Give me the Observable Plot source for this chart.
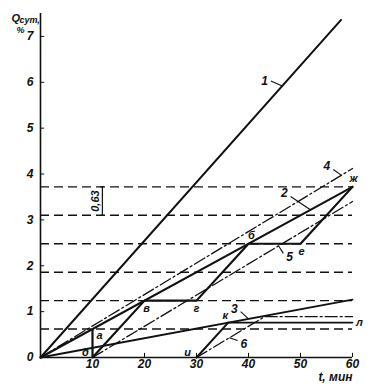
<!DOCTYPE html>
<html>
<head>
<meta charset="utf-8">
<script src="https://cdn.jsdelivr.net/npm/d3@7"></script>
<script src="https://cdn.jsdelivr.net/npm/@observablehq/plot@0.6"></script>
<style>
  html, body { margin: 0; padding: 0; background: #fff; }
  svg text { font-style: italic; }
</style>
</head>
<body>
<div id="chart"></div>
<script>
// ---- data (t in minutes, q in % of daily volume) ----
const xTicks = [10, 20, 30, 40, 50, 60];
const yTicks = [0, 1, 2, 3, 4, 5, 6, 7];
const yMinor = [1, 2, 3, 4, 5, 6, 7];
const levels = [0.62, 1.24, 1.86, 2.48, 3.10, 3.72];

const line1 = [{t: 0, q: 0}, {t: 57.8, q: 7.36}];
const line2 = [{t: 0, q: 0}, {t: 60, q: 3.72}];
const line3 = [{t: 0, q: 0}, {t: 60, q: 1.26}];
const line4 = [{t: 0, q: 0}, {t: 60, q: 4.12}];
const line5 = [{t: 10, q: 0}, {t: 60, q: 3.4}];
const line6 = [{t: 30, q: 0}, {t: 43.1, q: 0.89}, {t: 60, q: 0.89}];
const lineL = [{t: 36.1, q: 0.76}, {t: 60, q: 0.76}];
const lineIK = [{t: 30, q: 0}, {t: 36.1, q: 0.76}];
const stairs = [
  {t: 10, q: 0.62}, {t: 10, q: 0}, {t: 20, q: 1.24}, {t: 30, q: 1.24},
  {t: 40, q: 2.48}, {t: 50, q: 2.48}, {t: 60, q: 3.72}
];

// point letters
const pointNames = ["а", "д", "в", "г", "б", "е", "ж", "к", "и", "л"];
const pointT     = [10,   10,  20,  30,  40,  50,  60,  36.1, 30, 60];
const pointQ     = [0.62, 0,   1.24, 1.24, 2.48, 2.48, 3.72, 0.76, 0, 0.76];

// curve numbers: point on the curve and label anchor
const curveNames = ["1", "2", "3", "4", "5", "6"];
const curveT     = [46.5, 51.9, 40.0, 57.9, 45.8, 36.3];
const curveQ     = [5.92, 3.22, 0.84, 3.97, 2.43, 0.43];
const labelT     = [44.3, 48.1, 38.5, 56.3, 46.7, 37.9];
const labelQ     = [6.03, 3.51, 1.00, 4.10, 2.27, 0.37];

const dim = {t: 11.9, q1: 3.10, q2: 3.72, text: "0,63"};

// ---- build ----
const points = pointNames.map((n, i) => ({n, t: pointT[i], q: pointQ[i]}));
const curves = curveNames.map((n, i) => ({n, t1: curveT[i], q1: curveQ[i], t2: labelT[i], q2: labelQ[i]}));
const ptOff = {
  "а": [7, 6], "д": [-7, -5], "в": [2, 8], "г": [0, 8], "б": [3, -8],
  "е": [1, 8], "ж": [1, -8], "к": [-3, -7], "и": [-9, -5], "л": [7, 0]
};
const curveOff = {"1": [-3, 0], "2": [-3, -3], "3": [-3, -2], "4": [-3, -3], "5": [3, 4], "6": [3, 4]};

const dashDot = "12,3,2,3";
const font = "'Liberation Sans', 'DejaVu Sans', sans-serif";

const pointMarks = points.map(p => Plot.text([p], {
  x: "t", y: "q", text: "n", dx: ptOff[p.n][0], dy: ptOff[p.n][1], fontSize: 11, fontWeight: "bold"
}));
const curveMarks = curves.map(c => Plot.text([c], {
  x: "t2", y: "q2", text: "n", dx: curveOff[c.n][0], dy: curveOff[c.n][1],
  textAnchor: curveOff[c.n][0] < 0 ? "end" : "start", fontSize: 12, fontWeight: "bold"
}));

const chart = Plot.plot({
  width: 374,
  height: 386,
  marginLeft: 40,
  marginRight: 22,
  marginTop: 13,
  marginBottom: 29,
  x: {domain: [0, 60]},
  y: {domain: [0, 7.5]},
  style: {fontFamily: font, fontSize: "12px", color: "#111", background: "#fff"},
  marks: [
    // level lines
    Plot.ruleY(levels, {x1: 0, x2: 60, stroke: "#111", strokeWidth: 1.4, strokeDasharray: "9,5"}),
    // axes
    Plot.ruleX([0], {stroke: "#111", strokeWidth: 1.6}),
    Plot.ruleY([0], {stroke: "#111", strokeWidth: 1.6}),
    Plot.ruleX(xTicks, {y1: 0, y2: 0.09, stroke: "#111", strokeWidth: 1}),
    Plot.ruleY(yMinor, {x1: 0, x2: 0.8, stroke: "#111", strokeWidth: 1}),
    Plot.axisX(xTicks, {tickSize: 0, tickPadding: 2, label: null, fontWeight: "bold", fontSize: 12}),
    Plot.axisY(yTicks, {tickSize: 0, tickPadding: 7, label: null, fontWeight: "bold", fontSize: 12}),
    // lines
    Plot.line(line1, {x: "t", y: "q", stroke: "#111", strokeWidth: 2}),
    Plot.line(line2, {x: "t", y: "q", stroke: "#111", strokeWidth: 2}),
    Plot.line(line3, {x: "t", y: "q", stroke: "#111", strokeWidth: 1.8}),
    Plot.line(line4, {x: "t", y: "q", stroke: "#111", strokeWidth: 1.3, strokeDasharray: dashDot}),
    Plot.line(line5, {x: "t", y: "q", stroke: "#111", strokeWidth: 1.3, strokeDasharray: dashDot}),
    Plot.line(line6, {x: "t", y: "q", stroke: "#111", strokeWidth: 1.3, strokeDasharray: dashDot}),
    Plot.line(lineL, {x: "t", y: "q", stroke: "#111", strokeWidth: 1.6}),
    Plot.line(lineIK, {x: "t", y: "q", stroke: "#111", strokeWidth: 2}),
    Plot.line(stairs, {x: "t", y: "q", stroke: "#111", strokeWidth: 2.2}),
    // dimension mark
    Plot.ruleX([dim], {x: "t", y1: "q1", y2: "q2", stroke: "#111", strokeWidth: 1.2}),
    Plot.ruleY([dim.q1, dim.q2], {x1: dim.t - 0.35, x2: dim.t + 0.35, stroke: "#111", strokeWidth: 1.2}),
    Plot.text([dim], {x: "t", y: d => (d.q1 + d.q2) / 2, text: "text", rotate: -90, dx: -7, fontSize: 11, fontWeight: "bold"}),
    // curve number leaders
    Plot.link(curves, {x1: "t1", y1: "q1", x2: "t2", y2: "q2", stroke: "#111", strokeWidth: 1.1}),
    ...curveMarks,
    ...pointMarks,
    // axis titles
    Plot.text(["Q"], {frameAnchor: "top-left", dx: -29, dy: 1, fontSize: 11, fontWeight: "bold", textAnchor: "start"}),
    Plot.text(["сут,"], {frameAnchor: "top-left", dx: -21, dy: 3, fontSize: 9, fontWeight: "bold", textAnchor: "start"}),
    Plot.text(["%"], {frameAnchor: "top-left", dx: -24, dy: 13, fontSize: 9, fontWeight: "bold"}),
    Plot.text(["t, мин"], {frameAnchor: "bottom-right", dy: 20, lineAnchor: "middle", textAnchor: "end", fontSize: 12, fontWeight: "bold"})
  ]
});
document.getElementById("chart").appendChild(chart);
</script>
</body>
</html>
